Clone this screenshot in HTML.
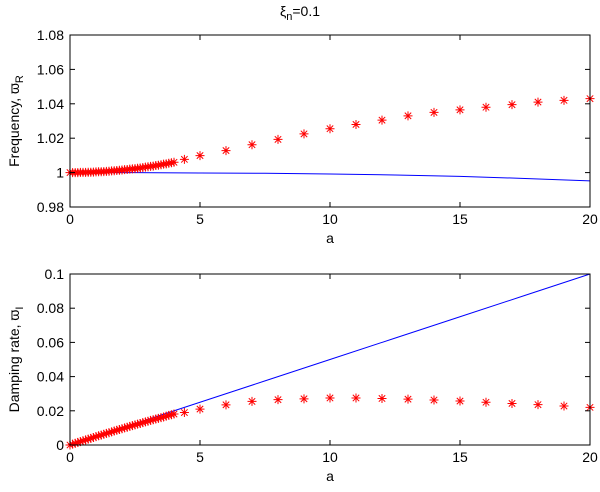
<!DOCTYPE html>
<html><head><meta charset="utf-8"><style>
body{margin:0;background:#fff;}
svg text{font-family:"Liberation Sans",sans-serif;font-size:14px;fill:#000;}
</style></head><body>
<svg id="chart" width="600" height="487" xmlns="http://www.w3.org/2000/svg"></svg>
<script>
const denseA=[0,0.1,0.2,0.3,0.4,0.5,0.6,0.7,0.8,0.9,1,1.1,1.2,1.3,1.4,1.5,1.6,1.7,1.8,1.9,2,2.1,2.2,2.3,2.4,2.5,2.6,2.7,2.8,2.9,3,3.1,3.2,3.3,3.4,3.5,3.6,3.7,3.8,3.9,4];
const sparseA=[4.4,5,6,7,8,9,10,11,12,13,14,15,16,17,18,19,20];
const freqDense=[1.0000,1.0000,1.0000,1.0000,1.0001,1.0001,1.0001,1.0002,1.0002,1.0003,1.0004,1.0005,1.0005,1.0006,1.0007,1.0008,1.0010,1.0011,1.0012,1.0014,1.0015,1.0017,1.0018,1.0020,1.0022,1.0023,1.0025,1.0027,1.0029,1.0032,1.0034,1.0036,1.0038,1.0041,1.0043,1.0046,1.0049,1.0051,1.0054,1.0057,1.0060];
const freqSparse=[1.0077,1.0099,1.0128,1.0162,1.0193,1.0225,1.0255,1.028,1.0305,1.033,1.035,1.0365,1.038,1.0395,1.041,1.042,1.043];
const dampDense=[0,.0005,.001,.0015,.002,.0025,.003,.0034,.0039,.0044,.0049,.0054,.0058,.0063,.0068,.0072,.0077,.0082,.0086,.0091,.0095,.01,.0104,.0109,.0113,.0118,.0122,.0126,.0131,.0135,.0139,.0144,.0148,.0152,.0156,.016,.0164,.0169,.0173,.0177,.0181];
const dampSparse=[.019,.021,.0235,.0255,.0265,.027,.0275,.0275,.0272,.0268,.0263,.0257,.025,.0243,.0236,.0228,.022];
const lineA=[0,2.5,5,7.5,10,12.5,15,17.5,20];
const freqLine=[1.0,1.0,0.9998,0.9996,0.9992,0.9986,0.9978,0.9966,0.9952];
const dampLine=[0,0.0125,0.025,0.0375,0.05,0.0625,0.075,0.0875,0.1];
const xTicks=[0,5,10,15,20];
const freqTicks=[0.98,1,1.02,1.04,1.06,1.08];
const freqTickLabels=["0.98","1","1.02","1.04","1.06","1.08"];
const dampTicks=[0,0.02,0.04,0.06,0.08,0.1];
const dampTickLabels=["0","0.02","0.04","0.06","0.08","0.1"];

const svg=document.getElementById('chart');
const NS="http://www.w3.org/2000/svg";
function mk(tag,attrs,parent){const e=document.createElementNS(NS,tag);for(const k in attrs)e.setAttribute(k,attrs[k]);(parent||svg).appendChild(e);return e;}
const X0=70,X1=590;
const xs=a=>X0+(a-0)/(20-0)*(X1-X0);

function panel(name,top,bot,ymin,ymax,ticks,tickLabels,line,dA,dV,sA,sV,ylabel,sub){
  const ys=v=>bot-(v-ymin)/(ymax-ymin)*(bot-top);
  const g=mk('g',{});
  
  
  const pts=lineA.map((a,i)=>xs(a)+','+ys(line[i])).join(' ');
  const pl=mk('polyline',{points:pts,fill:'none',stroke:'#0000ff','stroke-width':1},g);
  
  
  const allA=dA.concat(sA),allV=dV.concat(sV);
  allA.forEach((a,i)=>{
    const cx=xs(a),cy=ys(allV[i]),r=4.5,d=3.2;
    const p=mk('path',{d:`M${cx-r},${cy}H${cx+r}M${cx},${cy-r}V${cy+r}M${cx-d},${cy-d}L${cx+d},${cy+d}M${cx-d},${cy+d}L${cx+d},${cy-d}`,stroke:'#ff0000','stroke-width':1,fill:'none'},g);
    
    
  });
  const box=mk('rect',{x:X0,y:top,width:X1-X0,height:bot-top,fill:'none',stroke:'#000','stroke-width':1},g);
  
  
  xTicks.forEach(t=>{
    const x=xs(t);
    mk('line',{x1:x,y1:bot,x2:x,y2:bot-5,stroke:'#000'},g);
    mk('line',{x1:x,y1:top,x2:x,y2:top+5,stroke:'#000'},g);
    const tx=mk('text',{x:x,y:bot+17,'text-anchor':'middle'},g);tx.textContent=t;
    
    
  });
  ticks.forEach((t,i)=>{
    const y=ys(t);
    mk('line',{x1:X0,y1:y,x2:X0+5,y2:y,stroke:'#000'},g);
    mk('line',{x1:X1,y1:y,x2:X1-5,y2:y,stroke:'#000'},g);
    const tx=mk('text',{x:X0-6,y:y+5,'text-anchor':'end'},g);tx.textContent=tickLabels[i];
    
    
  });
  const xl=mk('text',{x:(X0+X1)/2,y:bot+36,'text-anchor':'middle'},g);xl.textContent='a';
  
  
  const cy=(top+bot)/2;
  const yl=mk('text',{x:0,y:0,'text-anchor':'middle',transform:`translate(19,${cy}) rotate(-90)`},g);
  yl.innerHTML=ylabel+'<tspan dy="4" font-size="11">'+sub+'</tspan>';
  
  
}
panel('frequency',35,207,0.98,1.08,freqTicks,freqTickLabels,freqLine,denseA,freqDense,sparseA,freqSparse,'Frequency, ϖ','R');
panel('damping',274,445,0,0.1,dampTicks,dampTickLabels,dampLine,denseA,dampDense,sparseA,dampSparse,'Damping rate, ϖ','I');
const title=mk('text',{x:300,y:16,'text-anchor':'middle'});
title.innerHTML='ξ<tspan dy="4" font-size="11">n</tspan><tspan dy="-4">=0.1</tspan>';


</script>
</body></html>
